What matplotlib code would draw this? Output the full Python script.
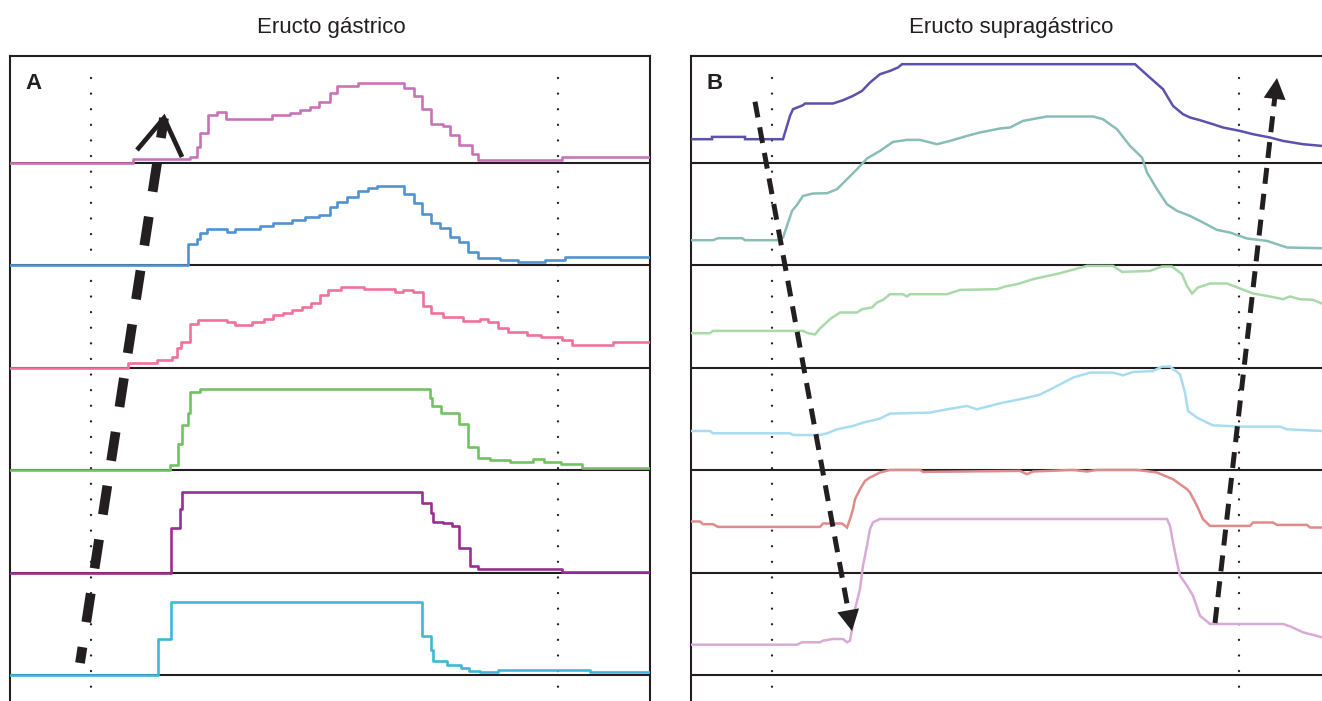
import matplotlib
matplotlib.use('Agg')
import matplotlib.pyplot as plt
import numpy as np

# Eructo gástrico (A): stepwise traces; t = time from panel edge, v = level above row baseline
gas_t1 = [0, 123, 180, 187, 190, 198, 207, 216, 262, 280, 290, 300, 309, 320, 327, 348, 394, 404, 412, 421, 433, 440, 449, 462, 468, 552, 640]
gas_v1 = [0, 3.5, 6, 16, 29.5, 47.5, 51, 43.5, 47.5, 50, 52.5, 56, 61, 70, 77, 80, 75, 66.5, 53.5, 39, 37, 28, 17.5, 8.5, 3, 6, 6]
gas_t2 = [0, 178, 187, 190, 197, 217, 225, 250, 263, 282, 295, 309, 320, 327, 337, 348, 358, 367, 394, 404, 412, 421, 430, 440, 449, 458, 468, 490, 508, 535, 555, 640]
gas_v2 = [0, 21, 26, 31.7, 36, 33.3, 36, 39.3, 42.3, 45, 47.7, 50, 58.3, 63.3, 68.3, 74, 77.3, 79.3, 71, 62.3, 51, 41.7, 36.7, 28.3, 23.3, 12.7, 6.7, 5, 3.3, 5, 7.7, 7.7]
gas_t3 = [0, 118, 147, 162, 167, 171, 180, 188, 217, 225, 242, 254, 263, 273, 282, 292, 301, 310, 318, 331, 354, 385, 393, 403, 413, 421, 433, 453, 470, 478, 488, 498, 517, 531, 552, 562, 603, 640]
gas_v3 = [0, 4.8, 7.5, 10.8, 19.2, 25.5, 43.2, 47.5, 45.8, 42.5, 45.8, 48.5, 52.5, 54.8, 57.5, 60.2, 64.2, 72.5, 77.5, 80.2, 78.2, 75.2, 77.5, 75.2, 61.8, 54.2, 50.8, 46.8, 48.2, 45.2, 39.8, 35.2, 32.8, 30.2, 27.5, 22.8, 25.2, 25.2]
gas_t4 = [0, 160, 168, 172, 178, 180, 190, 420, 422, 431, 449, 458, 468, 480, 500, 523, 534, 551, 572, 640]
gas_v4 = [0, 5, 25.7, 45, 56.7, 78.3, 81, 71.7, 64, 57.3, 45.7, 23.3, 12.3, 10, 8.3, 10.7, 8.3, 5.7, 2.3, 2.3]
gas_t5 = [0, 161, 170, 172, 412, 421, 423, 433, 442, 449, 460, 468, 552, 640]
gas_v5 = [0, 44.2, 63.2, 80.2, 69.2, 59.2, 50.2, 49.2, 46.8, 24.2, 6.5, 3.2, 0.5, 0.5]
gas_t6 = [0, 148, 161, 412, 421, 423, 437, 451, 459, 470, 488, 580, 640]
gas_v6 = [0, 36, 72.7, 39, 25, 14, 10, 6.7, 4, 2.7, 5, 2.7, 2.7]

# Eructo supragástrico (B)
sup_t1 = [0, 21, 21, 54, 54, 92, 94, 96, 99, 102, 112, 114, 142, 152, 162, 171, 179, 189, 199, 207, 211, 444, 457, 472, 482, 492, 499, 509, 522, 532, 549, 562, 579, 592, 612, 631, 641]
sup_v1 = [23.3, 23.3, 25.6, 25.6, 23.3, 23.3, 30, 36.6, 46.6, 53.3, 57.3, 59, 59, 62.3, 66.6, 71.6, 80, 88.3, 91.6, 95, 98.3, 98.3, 86.6, 73.3, 56.6, 48.3, 45, 42.3, 38.3, 35, 31.6, 28.3, 25, 21.6, 18.3, 16.6, 16.6]
sup_t2 = [0, 22, 27, 51, 54, 86, 92, 96, 101, 106, 112, 122, 136, 146, 156, 166, 176, 189, 202, 216, 229, 246, 259, 276, 289, 309, 319, 332, 356, 402, 412, 426, 439, 451, 456, 466, 476, 486, 499, 512, 526, 539, 556, 576, 596, 631, 641]
sup_v2 = [24.8, 24.8, 26.8, 26.8, 24.8, 24.8, 27.5, 39.1, 54.1, 60.1, 69.1, 71.5, 71.8, 75.8, 85.8, 95.8, 106.5, 114.1, 123.1, 125.1, 125.1, 120.8, 124.1, 129.1, 132.5, 136.5, 137.5, 144.1, 148.5, 148.5, 145.8, 135.8, 119.1, 107.5, 92.5, 75.8, 60.8, 54.1, 49.1, 42.5, 35.1, 32.5, 26.5, 24.1, 17.5, 16.8, 16.8]
sup_t3 = [0, 19, 22, 112, 117, 124, 129, 139, 149, 166, 171, 181, 186, 192, 199, 212, 216, 219, 256, 269, 306, 314, 326, 342, 369, 396, 422, 431, 459, 471, 481, 491, 496, 501, 507, 519, 536, 549, 562, 576, 592, 599, 609, 622, 631, 641]
sup_v3 = [34.3, 34.3, 36.6, 36.6, 34.3, 33, 39, 48.3, 55, 55, 58.3, 60, 65, 67.6, 73.3, 73.3, 71, 73.3, 73.3, 77.6, 78.3, 81, 83.3, 88.3, 94.3, 101.6, 101.6, 95.6, 96.6, 101, 101, 93.3, 81.6, 74, 80, 84, 84, 79, 74, 71.6, 68.3, 71, 68.3, 67.6, 64, 64]
sup_t4 = [1, 19, 22, 99, 102, 129, 136, 146, 162, 172, 189, 199, 239, 256, 276, 286, 309, 329, 349, 366, 382, 399, 422, 432, 442, 462, 471, 479, 489, 494, 497, 506, 516, 522, 549, 589, 596, 631, 641]
sup_v4 = [39, 39, 36.7, 36.7, 35, 35, 36.7, 40.7, 44, 47.4, 51.4, 56.4, 57.4, 60.7, 64, 60.7, 66.7, 70.7, 75.4, 84, 92.4, 97.4, 97.4, 94.7, 98, 99, 103.4, 103.4, 95.7, 77.4, 59, 52.4, 47.4, 44.7, 43.4, 43.4, 40.7, 39, 39]
sup_t5 = [1, 9, 12, 22, 27, 129, 132, 151, 156, 159, 162, 164, 169, 174, 179, 189, 199, 229, 232, 329, 336, 342, 382, 396, 406, 446, 466, 482, 496, 499, 506, 512, 519, 559, 562, 582, 586, 616, 619, 631, 641]
sup_v5 = [51, 51, 48.3, 48.3, 45.6, 45.6, 49, 49, 45, 53.3, 63.3, 73.3, 83.3, 91.6, 95, 100, 102.6, 102.6, 100.6, 101.6, 98.3, 101, 102.6, 101, 102.6, 102.6, 100, 93.3, 83.3, 80, 66.6, 53.3, 46.6, 46.6, 50, 50, 47.6, 47.6, 45, 45, 45]
sup_t6 = [1, 106, 111, 129, 132, 142, 152, 156, 159, 161, 164, 169, 172, 176, 179, 182, 189, 476, 479, 482, 486, 489, 496, 502, 509, 519, 592, 599, 612, 631, 641]
sup_v6 = [30.3, 30.3, 32.7, 32.7, 34.3, 36, 36, 32.7, 34.3, 46, 66, 86, 109.3, 129.3, 146, 152.7, 156, 156, 149.3, 132.7, 112.7, 99.3, 89.3, 79.3, 59.3, 51, 51, 48.7, 42.7, 37.7, 37.7]

gas_colors = ['#c674b6', '#4f93d3', '#f07199', '#72c163', '#9a2e90', '#3eb8d5']
sup_colors = ['#5a52ac', '#89bdb8', '#a9d9a9', '#a8ddf1', '#e08a8a', '#d9aad6']

titles = ['Eructo gástrico', 'Eructo supragástrico']
panel_labels = ['A', 'B']

# event markers (dotted) and annotation arrows, in panel units
marker_t = [81, 547.5]
gas_arrow_tail = (70, -500.5)
gas_arrow_tip = (154, 44.5)
gas_chevron = ([127, 154, 172], [12.5, 44.5, 5.5])
sup_arrows = [((64, 60.8), (161, -468.5)), ((524, -460.5), (586, 84.5))]

ROW_H = 102.5
N_ROWS = 6
W, H = 1322, 701

fig = plt.figure(figsize=(W / 100, H / 100), dpi=100)
fig.patch.set_facecolor('white')


def make_panel(left_px, width_px):
    top_px, bot_px = 55.5, 722
    ax = fig.add_axes([left_px / W, 1 - bot_px / H, width_px / W, (bot_px - top_px) / H])
    ax.set_xlim(0, width_px)
    ax.set_ylim(-(bot_px - 162.5), 162.5 - top_px)
    ax.set_xticks([])
    ax.set_yticks([])
    for s in ax.spines.values():
        s.set_linewidth(1.5)
        s.set_color('#231f20')
    for k in range(N_ROWS):
        ax.axhline(-k * ROW_H, color='#231f20', lw=1.5, zorder=1)
    for t in marker_t:
        ax.plot([t, t], [84.5, -560], color='#231f20', lw=1.7,
                linestyle=(0, (0.01, 6.6)), dash_capstyle='round', zorder=2)
    return ax


axA = make_panel(10, 640)
axB = make_panel(691, 641)

gas = [(gas_t1, gas_v1), (gas_t2, gas_v2), (gas_t3, gas_v3),
       (gas_t4, gas_v4), (gas_t5, gas_v5), (gas_t6, gas_v6)]
for k, (t, v) in enumerate(gas):
    axA.plot(t, np.array(v) - k * ROW_H, drawstyle='steps-post',
             color=gas_colors[k], lw=1.9, zorder=3)

sup = [(sup_t1, sup_v1), (sup_t2, sup_v2), (sup_t3, sup_v3),
       (sup_t4, sup_v4), (sup_t5, sup_v5), (sup_t6, sup_v6)]
for k, (t, v) in enumerate(sup):
    axB.plot(t, np.array(v) - k * ROW_H, color=sup_colors[k], lw=1.8,
             solid_joinstyle='miter', zorder=3)

# panel A: heavy dashed arrow with open chevron head
axA.plot([gas_arrow_tip[0], gas_arrow_tail[0]], [gas_arrow_tip[1], gas_arrow_tail[1]],
         color='#231f20', lw=7, linestyle=(0.93, (3.0, 2.6)), dash_capstyle='butt',
         solid_capstyle='butt', zorder=4)
axA.plot(gas_chevron[0], gas_chevron[1], color='#231f20', lw=3.4,
         solid_joinstyle='miter', solid_capstyle='butt', zorder=4)

# panel B: dashed arrows with filled triangular heads
head_len, head_half = 21, 11
for (x0, y0), (x1, y1) in sup_arrows:
    d = np.array([x1 - x0, y1 - y0], float)
    L = np.hypot(*d)
    u = d / L
    n = np.array([-u[1], u[0]])
    base = np.array([x1, y1]) - u * head_len
    axB.plot([x0, base[0] + u[0] * 2], [y0, base[1] + u[1] * 2], color='#231f20', lw=3.6,
             linestyle=(0, (3.2, 2.0)), dash_capstyle='butt', zorder=4)
    tri = np.array([[x1, y1], base + n * head_half, base - n * head_half])
    axB.fill(tri[:, 0], tri[:, 1], color='#231f20', lw=0, zorder=4)

for ax, lab in zip([axA, axB], panel_labels):
    ax.text(15, 79.5, lab, fontsize=16, fontweight='bold', family=['Liberation Sans', 'DejaVu Sans'],
            color='#231f20', va='center', ha='left')

fig.text(331 / W, 1 - 27 / H, titles[0], ha='center', va='center', fontsize=16,
         family=['Liberation Sans Narrow', 'Liberation Sans', 'DejaVu Sans'], color='#231f20')
fig.text(1011 / W, 1 - 27 / H, titles[1], ha='center', va='center', fontsize=16,
         family=['Liberation Sans Narrow', 'Liberation Sans', 'DejaVu Sans'], color='#231f20')

fig.savefig('out.png', dpi=100, facecolor='white')
